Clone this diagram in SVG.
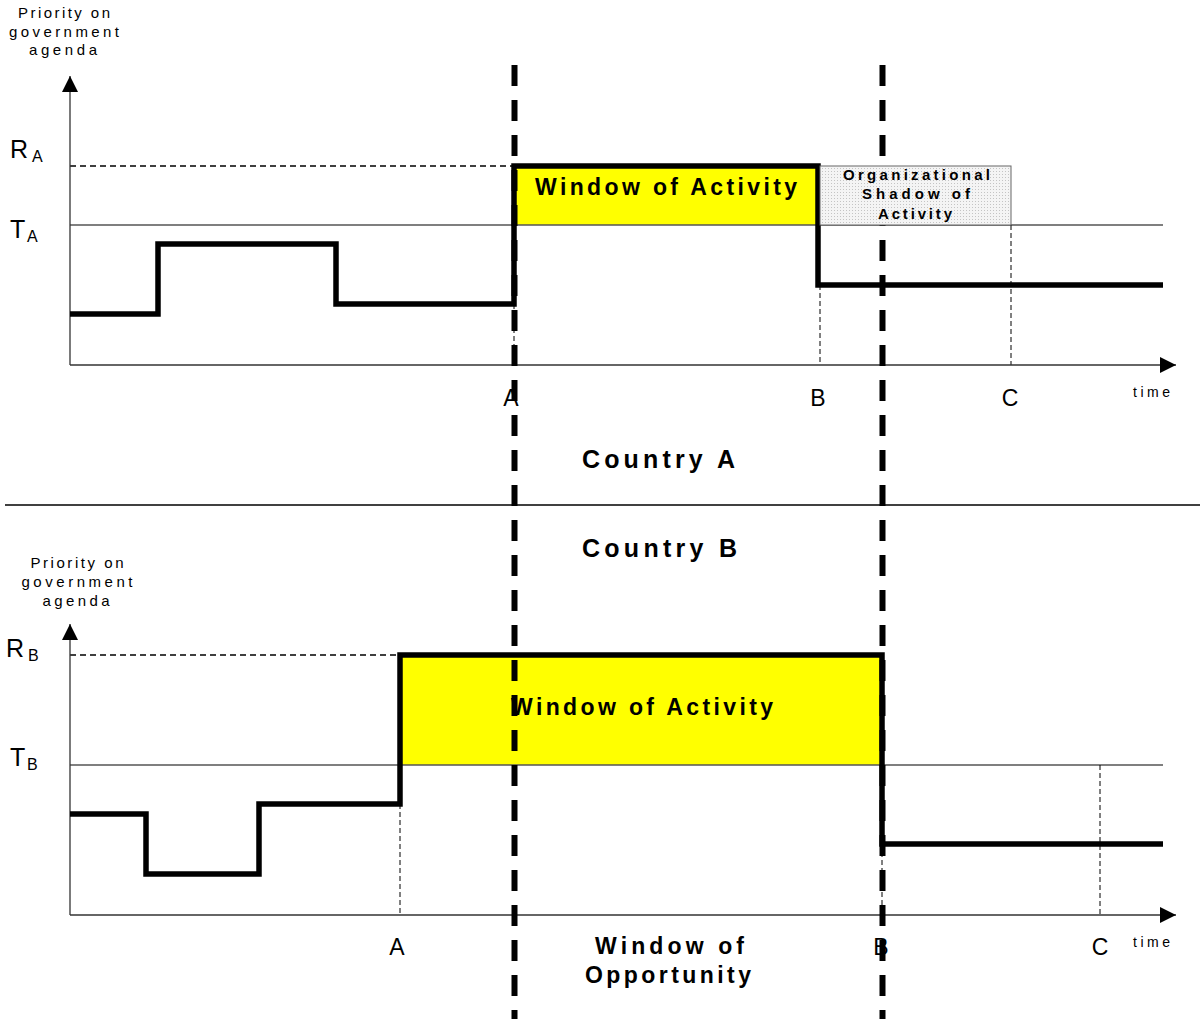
<svg xmlns="http://www.w3.org/2000/svg" width="1202" height="1019" viewBox="0 0 1202 1019">
<style>
text{font-family:"Liberation Sans",Arial,sans-serif;fill:#000}
.lab{font-size:15px}
.big{font-size:25px}
.sub{font-size:16px}
.pt{font-size:23px}
.time{font-size:14px}
.bold{font-weight:bold}
.axis{stroke:#333;stroke-width:1.3;fill:none}
.thr{stroke:#555;stroke-width:1.3;fill:none}
.hd{stroke:#000;stroke-width:1.3;stroke-dasharray:6 4;fill:none}
.vd{stroke:#000;stroke-width:1;stroke-dasharray:5 3;fill:none}
.step{stroke:#000;stroke-width:5.5;fill:none;stroke-linejoin:miter}
.win{stroke:#000;stroke-width:6;stroke-dasharray:21 14;fill:none}
.yel{fill:#ffff00}
</style>
<defs>
<marker id="ah" markerUnits="userSpaceOnUse" markerWidth="16" markerHeight="16" refX="16" refY="8" orient="auto">
<path d="M0,0 L16,8 L0,16 z" fill="#000"/>
</marker>
<pattern id="dots" width="3" height="3" patternUnits="userSpaceOnUse">
<rect width="3" height="3" fill="#f4f4f4"/>
<rect width="1" height="1" fill="#c4c4c4"/>
</pattern>
</defs>
<rect width="1202" height="1019" fill="#fff"/>

<g id="countryA">
<text class="lab" x="64" y="18" text-anchor="middle" textLength="92" lengthAdjust="spacing">Priority on</text>
<text class="lab" x="64" y="37" text-anchor="middle" textLength="110" lengthAdjust="spacing">government</text>
<text class="lab" x="63" y="55" text-anchor="middle" textLength="68" lengthAdjust="spacing">agenda</text>
<rect class="yel" x="514" y="166" width="304" height="59"/>
<line class="hd" x1="70" y1="166" x2="514" y2="166"/>
<line class="thr" x1="70" y1="225" x2="1163" y2="225"/>
<line class="vd" x1="514" y1="304" x2="514" y2="365"/>
<line class="vd" x1="820" y1="285" x2="820" y2="365"/>
<line class="vd" x1="1011" y1="225" x2="1011" y2="365"/>
<line class="axis" x1="70" y1="365" x2="70" y2="76" marker-end="url(#ah)"/>
<line class="axis" x1="70" y1="365" x2="1176" y2="365" marker-end="url(#ah)"/>
<path class="step" d="M70,314 H158 V244 H336 V304 H514 V166 H818 V285 H1163"/>
<text class="big" x="10" y="158">R</text><text class="sub" x="32" y="162">A</text>
<text class="big" x="10" y="238">T</text><text class="sub" x="27" y="242">A</text>
<text class="bold" x="535" y="195" font-size="23" textLength="262" lengthAdjust="spacing">Window of Activity</text>
<text class="pt" x="511" y="406" text-anchor="middle">A</text>
<text class="pt" x="818" y="406" text-anchor="middle">B</text>
<text class="pt" x="1010" y="406" text-anchor="middle">C</text>
<text class="time" x="1133" y="397" textLength="37" lengthAdjust="spacing">time</text>
<text class="bold" x="582" y="468" font-size="25" textLength="153" lengthAdjust="spacing">Country A</text>
</g>

<line x1="5" y1="505" x2="1200" y2="505" stroke="#000" stroke-width="1.3"/>

<g id="countryB">
<text class="bold" x="582" y="557" font-size="25" textLength="155" lengthAdjust="spacing">Country B</text>
<text class="lab" x="77" y="568" text-anchor="middle" textLength="93" lengthAdjust="spacing">Priority on</text>
<text class="lab" x="77" y="587" text-anchor="middle" textLength="111" lengthAdjust="spacing">government</text>
<text class="lab" x="76" y="606" text-anchor="middle" textLength="67" lengthAdjust="spacing">agenda</text>
<rect class="yel" x="400" y="655" width="482" height="110"/>
<line class="hd" x1="70" y1="655" x2="400" y2="655"/>
<line class="thr" x1="70" y1="765" x2="1163" y2="765"/>
<line class="vd" x1="400" y1="804" x2="400" y2="915"/>
<line class="vd" x1="882" y1="844" x2="882" y2="915"/>
<line class="vd" x1="1100" y1="765" x2="1100" y2="915"/>
<line class="axis" x1="70" y1="915" x2="70" y2="624" marker-end="url(#ah)"/>
<line class="axis" x1="70" y1="915" x2="1176" y2="915" marker-end="url(#ah)"/>
<path class="step" d="M70,814 H146 V874 H259 V804 H400 V655 H882 V844 H1163"/>
<text class="big" x="6" y="657">R</text><text class="sub" x="28" y="661">B</text>
<text class="big" x="10" y="766">T</text><text class="sub" x="27" y="770">B</text>
<text class="bold" x="511" y="715" font-size="23" textLength="262" lengthAdjust="spacing">Window of Activity</text>
<text class="pt" x="397" y="955" text-anchor="middle">A</text>
<text class="pt" x="881" y="955" text-anchor="middle">B</text>
<text class="pt" x="1100" y="955" text-anchor="middle">C</text>
<text class="time" x="1133" y="947" textLength="37" lengthAdjust="spacing">time</text>
<text class="bold" x="595" y="954" font-size="23" textLength="149" lengthAdjust="spacing">Window of</text>
<text class="bold" x="585" y="983" font-size="23" textLength="166" lengthAdjust="spacing">Opportunity</text>
</g>

<g id="connectors">
<line class="win" x1="514.5" y1="65" x2="514.5" y2="1019"/>
<line class="win" x1="882.5" y1="65" x2="882.5" y2="1019"/>
</g>

<g id="shadow">
<rect x="820" y="166" width="191" height="59" fill="url(#dots)" stroke="#666" stroke-width="1"/>
<text class="bold" x="843" y="180" font-size="15" textLength="147" lengthAdjust="spacing">Organizational</text>
<text class="bold" x="862" y="199" font-size="15" textLength="108" lengthAdjust="spacing">Shadow of</text>
<text class="bold" x="878" y="219" font-size="15" textLength="74" lengthAdjust="spacing">Activity</text>
</g>
</svg>
